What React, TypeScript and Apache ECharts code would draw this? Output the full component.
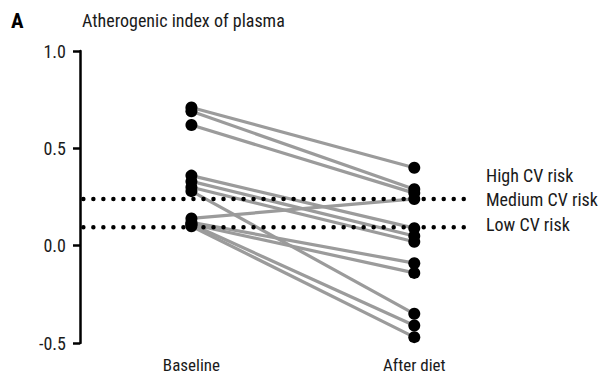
import React, { useEffect, useRef } from "react";
import * as echarts from "echarts";

const timepoints = ["Baseline", "After diet"];
const baselineValues = [0.71, 0.69, 0.62, 0.36, 0.33, 0.3, 0.28, 0.14, 0.12, 0.11, 0.11, 0.1];
const afterDietValues = [0.4, 0.29, 0.27, 0.09, 0.05, 0.02, -0.35, 0.24, -0.09, -0.14, -0.41, -0.47];
const riskThresholds = [0.24, 0.095];
const riskLabels = ["High CV risk", "Medium CV risk", "Low CV risk"];
const yTicks = [-0.5, 0.0, 0.5, 1.0];

const FONT = "'Liberation Sans Narrow', 'Roboto Condensed', 'DejaVu Sans Condensed', Arial, sans-serif";

export default function App() {
  const ref = useRef<HTMLDivElement>(null);
  useEffect(() => {
    document.body.style.margin = "0";
    const chart = echarts.init(ref.current!, null, { renderer: "svg" });
    const lineSeries = baselineValues.map((b, i) => ({
      type: "line",
      data: [
        [1, b],
        [2, afterDietValues[i]],
      ],
      symbol: "none",
      lineStyle: { color: "#9b9b9b", width: 3.2, opacity: 1 },
      z: 2,
      silent: true,
    }));
    const dotSeries = riskThresholds.map((t) => ({
      type: "line",
      data: [
        [0.515, t],
        [2.25, t],
      ],
      symbol: "none",
      lineStyle: { color: "#000", width: 4.5, type: [0.01, 10], cap: "round", opacity: 1 },
      z: 3,
      silent: true,
    }));
    const points: number[][] = [];
    baselineValues.forEach((b, i) => {
      points.push([1, b]);
      points.push([2, afterDietValues[i]]);
    });
    chart.setOption({
      animation: false,
      grid: { left: 80, right: 137, top: 51, bottom: 33, containLabel: false },
      xAxis: {
        type: "value",
        min: 0.5,
        max: 2.25,
        interval: 0.25,
        axisLine: { show: false },
        axisTick: { show: false },
        splitLine: { show: false },
        axisLabel: {
          margin: 13,
          fontFamily: FONT,
          fontSize: 17,
          color: "#1a1a1a",
          formatter: (v: number) => (v === 1 ? timepoints[0] : v === 2 ? timepoints[1] : ""),
        },
      },
      yAxis: {
        type: "value",
        min: -0.5,
        max: 1.0,
        interval: 0.5,
        name: "Atherogenic index of plasma",
        nameLocation: "end",
        nameGap: 22,
        nameTextStyle: { fontFamily: FONT, fontSize: 18, color: "#1a1a1a", align: "left", padding: [0, 0, 0, 2] },
        axisLine: { show: true, lineStyle: { color: "#000", width: 2.5 } },
        axisTick: { show: true, length: 7, lineStyle: { color: "#000", width: 2.5 } },
        splitLine: { show: false },
        axisLabel: {
          margin: 14,
          fontFamily: FONT,
          fontSize: 18,
          color: "#1a1a1a",
          formatter: (v: number) => (yTicks.includes(v) ? v.toFixed(1) : ""),
        },
      },
      series: [
        ...lineSeries,
        ...dotSeries,
        {
          type: "scatter",
          data: points,
          symbol: "circle",
          symbolSize: 12,
          itemStyle: { color: "#000", opacity: 1 },
          z: 4,
          silent: true,
        },
      ],
    });
    const pMed = chart.convertToPixel({ gridIndex: 0 }, [2.25, riskThresholds[0]]) as number[];
    const pLow = chart.convertToPixel({ gridIndex: 0 }, [2.25, riskThresholds[1]]) as number[];
    const labelX = pMed[0] + 16;
    const ys = [pMed[1] - 23, pMed[1] + 1, pLow[1] - 3];
    chart.setOption({
      graphic: [
        {
          type: "text",
          left: 11,
          top: 10,
          style: { text: "A", font: `bold 21px ${FONT}`, fill: "#000" },
        },
        ...riskLabels.map((t, i) => ({
          type: "text",
          x: labelX,
          y: ys[i],
          style: {
            text: t,
            font: `18px ${FONT}`,
            fill: "#1a1a1a",
            textVerticalAlign: "middle",
            verticalAlign: "middle",
          },
        })),
      ],
    });
    return () => chart.dispose();
  }, []);
  return <div ref={ref} style={{ width: 607, height: 376 }} />;
}
